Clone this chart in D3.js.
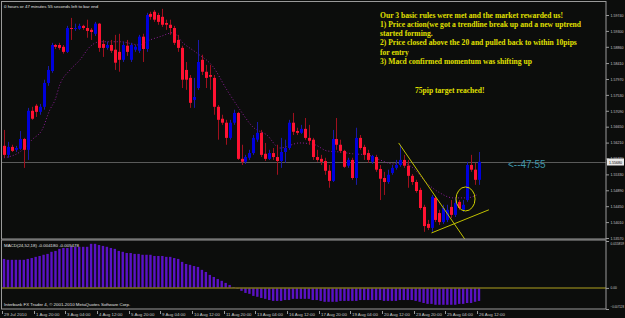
<!DOCTYPE html>
<html>
<head>
<meta charset="utf-8">
<title>GBPUSD H4 with MACD</title>
<script src="https://d3js.org/d3.v7.min.js"></script>
<style>
    body {
        margin: 0;
        padding: 0;
        background: #0c0d0c;
    }
    svg { display: block; }
    .small {
        font-family: "Liberation Sans", Arial, sans-serif;
        font-size: 4.4px;
        fill: #c8c8c8;
    }
    .axis text {
        font-size: 4px;
    }
    .macdaxis text {
        font-size: 3.3px;
    }
    .note {
        font-family: "Liberation Serif", "Times New Roman", serif;
        font-size: 7.6px;
        font-weight: bold;
        fill: #e0e000;
    }
</style>
</head>
<body>
<script>
var w = 625, h = 318;

// time labels, one every 8 bars (4 hour bars)
var timeLabels = ["29 Jul 2010", "1 Aug 20:00", "3 Aug 04:00", "4 Aug 12:00", "5 Aug 20:00",
    "9 Aug 04:00", "10 Aug 12:00", "11 Aug 20:00", "13 Aug 04:00", "16 Aug 12:00",
    "17 Aug 20:00", "19 Aug 04:00", "20 Aug 12:00", "23 Aug 20:00", "25 Aug 04:00", "26 Aug 12:00"];

var priceTicks = [1.59740, 1.59300, 1.58860, 1.58410, 1.57970, 1.57530, 1.57090, 1.56650,
    1.56210, 1.55770, 1.55330, 1.54890, 1.54450, 1.54010, 1.53570];

var macdTicks = [0.015859, 0, -0.007128];

// open, high, low, close
var candles = [
    [1.5612,1.5656,1.5579,1.5587],[1.5587,1.5623,1.5579,1.5609],[1.5609,1.5615,1.5595,1.5598],
    [1.5601,1.5612,1.5595,1.5606],[1.5604,1.5653,1.5601,1.5631],[1.5631,1.5634,1.5551,1.5601],
    [1.5601,1.5717,1.5573,1.5709],[1.5709,1.5720,1.5684,1.5687],[1.5723,1.5728,1.5692,1.5706],
    [1.5706,1.5728,1.5698,1.5720],[1.5720,1.5795,1.5712,1.5786],[1.5786,1.5833,1.5778,1.5822],
    [1.5819,1.5897,1.5814,1.5891],[1.5891,1.5894,1.5880,1.5886],[1.5891,1.5897,1.5878,1.5883],
    [1.5886,1.5891,1.5867,1.5872],[1.5872,1.5944,1.5869,1.5938],[1.5938,1.5966,1.5905,1.5936],
    [1.5936,1.5950,1.5930,1.5938],[1.5936,1.5950,1.5933,1.5944],[1.5944,1.5947,1.5933,1.5938],
    [1.5938,1.5961,1.5911,1.5930],[1.5933,1.5938,1.5905,1.5927],[1.5922,1.5955,1.5916,1.5950],
    [1.5950,1.5952,1.5872,1.5883],[1.5894,1.5905,1.5858,1.5883],[1.5883,1.5900,1.5878,1.5891],
    [1.5891,1.5905,1.5869,1.5875],[1.5878,1.5919,1.5822,1.5842],[1.5872,1.5922,1.5817,1.5850],
    [1.5850,1.5900,1.5844,1.5891],[1.5889,1.5905,1.5861,1.5872],[1.5850,1.5897,1.5844,1.5891],
    [1.5878,1.5891,1.5872,1.5886],[1.5875,1.5919,1.5869,1.5914],[1.5914,1.5922,1.5844,1.5880],
    [1.5880,1.5980,1.5872,1.5974],[1.5977,1.5983,1.5961,1.5969],[1.5983,1.5988,1.5955,1.5961],
    [1.5974,1.5980,1.5947,1.5955],[1.5969,1.5991,1.5941,1.5947],[1.5952,1.5961,1.5933,1.5947],
    [1.5947,1.5961,1.5919,1.5938],[1.5938,1.5944,1.5891,1.5897],[1.5905,1.5919,1.5872,1.5883],
    [1.5883,1.5889,1.5772,1.5795],[1.5822,1.5844,1.5767,1.5795],[1.5800,1.5808,1.5717,1.5731],
    [1.5739,1.5800,1.5717,1.5747],[1.5772,1.5905,1.5767,1.5844],[1.5850,1.5864,1.5808,1.5817],
    [1.5817,1.5836,1.5772,1.5800],[1.5808,1.5836,1.5767,1.5803],[1.5800,1.5808,1.5698,1.5720],
    [1.5720,1.5725,1.5629,1.5684],[1.5687,1.5698,1.5670,1.5676],[1.5676,1.5684,1.5615,1.5634],
    [1.5634,1.5684,1.5629,1.5676],[1.5676,1.5712,1.5670,1.5703],[1.5703,1.5706,1.5573,1.5576],
    [1.5576,1.5615,1.5559,1.5568],[1.5568,1.5587,1.5562,1.5581],[1.5579,1.5601,1.5573,1.5592],
    [1.5592,1.5642,1.5587,1.5634],[1.5629,1.5678,1.5623,1.5648],[1.5648,1.5656,1.5581,1.5587],
    [1.5590,1.5620,1.5570,1.5576],[1.5576,1.5601,1.5573,1.5592],[1.5592,1.5606,1.5573,1.5581],
    [1.5581,1.5615,1.5532,1.5570],[1.5570,1.5634,1.5551,1.5595],[1.5595,1.5629,1.5565,1.5606],
    [1.5606,1.5684,1.5601,1.5676],[1.5676,1.5703,1.5642,1.5651],[1.5653,1.5662,1.5642,1.5648],
    [1.5648,1.5670,1.5645,1.5659],[1.5659,1.5689,1.5629,1.5634],[1.5634,1.5670,1.5615,1.5626],
    [1.5629,1.5634,1.5573,1.5581],[1.5581,1.5601,1.5568,1.5573],[1.5576,1.5587,1.5559,1.5568],
    [1.5570,1.5579,1.5532,1.5543],[1.5543,1.5559,1.5496,1.5515],[1.5515,1.5656,1.5512,1.5631],
    [1.5631,1.5689,1.5601,1.5615],[1.5615,1.5629,1.5592,1.5598],[1.5598,1.5601,1.5551,1.5554],
    [1.5557,1.5579,1.5551,1.5573],[1.5573,1.5579,1.5518,1.5523],[1.5523,1.5662,1.5504,1.5634],
    [1.5634,1.5642,1.5601,1.5606],[1.5609,1.5615,1.5573,1.5587],[1.5592,1.5601,1.5565,1.5573],
    [1.5568,1.5587,1.5562,1.5584],[1.5581,1.5587,1.5540,1.5546],[1.5548,1.5559,1.5462,1.5521],
    [1.5523,1.5540,1.5476,1.5512],[1.5512,1.5546,1.5507,1.5532],[1.5537,1.5559,1.5532,1.5551],
    [1.5551,1.5573,1.5546,1.5559],[1.5559,1.5615,1.5554,1.5573],[1.5573,1.5587,1.5551,1.5557],
    [1.5557,1.5573,1.5496,1.5529],[1.5529,1.5534,1.5504,1.5512],[1.5512,1.5518,1.5482,1.5487],
    [1.5490,1.5496,1.5435,1.5440],[1.5443,1.5449,1.5374,1.5390],[1.5396,1.5407,1.5379,1.5385],
    [1.5385,1.5476,1.5374,1.5471],[1.5468,1.5473,1.5401,1.5407],[1.5426,1.5435,1.5393,1.5401],
    [1.5401,1.5449,1.5396,1.5440],[1.5407,1.5449,1.5401,1.5435],[1.5443,1.5462,1.5412,1.5421],
    [1.5421,1.5468,1.5415,1.5454],[1.5457,1.5462,1.5435,1.5440],[1.5435,1.5462,1.5429,1.5449],
    [1.5462,1.5568,1.5457,1.5559],[1.5559,1.5587,1.5540,1.5546],[1.5546,1.5565,1.5504,1.5518],
    [1.5518,1.5595,1.5504,1.5568]
];

// 20 period moving average: [bar, price]
var ma20 = [[0,1.5579],[4,1.5595],[7.3,1.5631],[9.6,1.5656],[11.6,1.5712],[12.9,1.5739],
    [14.1,1.5781],[16.7,1.5822],[19.2,1.5850],[21.7,1.5886],[24.2,1.5900],[29.3,1.5900],
    [34.3,1.5891],[36.9,1.5905],[39.4,1.5914],[42.7,1.5925],[45.2,1.5897],[48.7,1.5869],
    [52.8,1.5831],[56.3,1.5767],[59.6,1.5712],[62.9,1.5664],[66.4,1.5642],[69.7,1.5606],
    [74.7,1.5620],[78.5,1.5615],[81.6,1.5598],[84.8,1.5595],[88.1,1.5590],[91.7,1.5587],
    [95,1.5573],[98.2,1.5562],[100.8,1.5565],[103.3,1.5551],[106.8,1.5509],[110.1,1.5482],
    [113.4,1.5468],[116.9,1.5468],[119.4,1.5476]];

// MACD(24,52,18) main histogram
var macd = [
    0.0098,0.0095,0.0095,0.0095,0.0095, 0.0095,0.0098,0.0101,0.0105,0.0108,
    0.0112,0.0115,0.0122,0.0125,0.0132, 0.0135,0.0135,0.0139,0.0139,0.0139,
    0.0139,0.0139,0.0149,0.0149,0.0145, 0.0142,0.0139,0.0135,0.0132,0.0125,
    0.0122,0.0118,0.0118,0.0115,0.0115, 0.0112,0.0112,0.0112,0.0108,0.0108,
    0.0108,0.0105,0.0105,0.0101,0.0098, 0.0088,0.0081,0.0078,0.0074,0.0071,
    0.0061,0.0054,0.0044,0.0037,0.0030, 0.0024,0.0017,0.0010,0.0003,-0.0003,
    -0.0010,-0.0017,-0.0020,-0.0027,-0.0030, -0.0034,-0.0037,-0.0041,-0.0044,-0.0044,
    -0.0044,-0.0041,-0.0041,-0.0037,-0.0037, -0.0037,-0.0037,-0.0037,-0.0041,-0.0041,
    -0.0044,-0.0047,-0.0047,-0.0047,-0.0047, -0.0044,-0.0044,-0.0044,-0.0044,-0.0044,
    -0.0041,-0.0041,-0.0041,-0.0041,-0.0041, -0.0041,-0.0044,-0.0044,-0.0044,-0.0044,
    -0.0041,-0.0041,-0.0041,-0.0041,-0.0044, -0.0047,-0.0051,-0.0054,-0.0054,-0.0057,
    -0.0057,-0.0057,-0.0057,-0.0057,-0.0057, -0.0054,-0.0054,-0.0051,-0.0051,-0.0047,
    -0.0044
];

var lastPrice = 1.55680;

// hand drawn objects: [bar, price]
var trendDown = [[99.7, 1.5620], [116.4, 1.5354]];
var trendUp = [[108, 1.5371], [122.5, 1.5435]];
var circleAt = [116.6, 1.5465];

var notes = ["Our 3 basic rules were met and the market rewarded us!",
    "1) Price action(we got a trendline break up and a new uptrend",
    "started forming.",
    "2) Price closed above the 20 and pulled back to within 10pips",
    "for entry",
    "3) Macd confirmed momentum was shifting up"];
var target = "75pip target reached!";

// layout
var left = 2, right = 606, mainTop = 2, mainBottom = 239, macdTop = 240, macdBottom = 309;

var x = d3.scaleLinear().domain([0, 120]).range([4, 479]);
var y = d3.scaleLinear().domain([1.53570, 1.59740]).range([238, 15]);
var ym = d3.scaleLinear().domain([-0.007128, 0.015859]).range([309, 241]);

var svg = d3.select("body").append("svg")
    .attr("width", w)
    .attr("height", h);

svg.append("rect").attr("width", w).attr("height", h).attr("fill", "#0c0d0c");

var defs = svg.append("defs");
defs.append("clipPath").attr("id", "clipMain")
    .append("rect").attr("x", left).attr("y", mainTop).attr("width", right - left).attr("height", mainBottom - mainTop);
defs.append("clipPath").attr("id", "clipMacd")
    .append("rect").attr("x", left).attr("y", macdTop).attr("width", right - left).attr("height", macdBottom - macdTop);

var main = svg.append("g").attr("clip-path", "url(#clipMain)");
var lower = svg.append("g").attr("clip-path", "url(#clipMacd)");

// bid line
main.append("line")
    .attr("x1", left).attr("x2", right)
    .attr("y1", Math.round(y(lastPrice)) + 0.5).attr("y2", Math.round(y(lastPrice)) + 0.5)
    .attr("stroke", "#5a5a5a");

// moving average, dotted
main.append("path")
    .datum(ma20)
    .attr("d", d3.line().x(function(d) { return x(d[0]); }).y(function(d) { return y(d[1]); }).curve(d3.curveMonotoneX))
    .attr("fill", "none")
    .attr("stroke", "#8c1c98")
    .attr("stroke-width", 1)
    .attr("stroke-dasharray", "1 2");

// candles
var bar = main.selectAll(".candle")
    .data(candles)
    .enter().append("g")
    .attr("class", "candle");

bar.append("line")
    .attr("x1", function(d, i) { return Math.round(x(i)) + 0.5; })
    .attr("x2", function(d, i) { return Math.round(x(i)) + 0.5; })
    .attr("y1", function(d) { return y(d[1]); })
    .attr("y2", function(d) { return y(d[2]); })
    .attr("stroke", function(d) { return d[3] >= d[0] ? "#1a1aa8" : "#a0101e"; });

bar.append("rect")
    .attr("x", function(d, i) { return Math.round(x(i)) - 1; })
    .attr("width", 3)
    .attr("y", function(d) { return y(Math.max(d[0], d[3])); })
    .attr("height", function(d) { return Math.max(1, Math.abs(y(d[0]) - y(d[3]))); })
    .attr("fill", function(d) { return d[3] >= d[0] ? "#0000dc" : "#ff1232"; });

// trendlines and circle
[trendDown, trendUp].forEach(function(t) {
    main.append("line")
        .attr("x1", x(t[0][0])).attr("y1", y(t[0][1]))
        .attr("x2", x(t[1][0])).attr("y2", y(t[1][1]))
        .attr("stroke", "#c0c000")
        .attr("stroke-width", 1);
});
main.append("ellipse")
    .attr("cx", x(circleAt[0])).attr("cy", y(circleAt[1]))
    .attr("rx", 9.5).attr("ry", 12)
    .attr("fill", "none")
    .attr("stroke", "#d0d000")
    .attr("stroke-width", 1);

// MACD histogram
lower.selectAll(".hist")
    .data(macd)
    .enter().append("rect")
    .attr("class", "hist")
    .attr("x", function(d, i) { return x(i) - 1.2; })
    .attr("width", 2.4)
    .attr("y", function(d) { return ym(Math.max(0, d)); })
    .attr("height", function(d) { return Math.abs(ym(d) - ym(0)); })
    .attr("fill", "#5a12c4");

lower.append("line")
    .attr("x1", left).attr("x2", right)
    .attr("y1", ym(0)).attr("y2", ym(0))
    .attr("stroke", "#7a7018")
    .attr("stroke-width", 1.5);

// frames
svg.append("rect")
    .attr("x", left - 0.5).attr("y", mainTop - 0.5)
    .attr("width", right - left + 0.5).attr("height", mainBottom - mainTop + 0.5)
    .attr("fill", "none").attr("stroke", "#9a9a9a");
svg.append("rect")
    .attr("x", left - 0.5).attr("y", macdTop)
    .attr("width", right - left + 0.5).attr("height", macdBottom - macdTop)
    .attr("fill", "none").attr("stroke", "#9a9a9a");

// squeeze the tiny axis numbers so they fit in the narrow margin
function fit(sel, width) {
    sel.attr("textLength", width).attr("lengthAdjust", "spacingAndGlyphs");
}

// price axis
var yAxis = d3.axisRight(y)
    .tickValues(priceTicks)
    .tickSize(3)
    .tickPadding(1.5)
    .tickFormat(d3.format(".5f"));
var ga = svg.append("g")
    .attr("class", "axis")
    .attr("transform", "translate(" + right + ",0)")
    .call(yAxis);
ga.select(".domain").remove();
ga.selectAll("line").attr("stroke", "#9a9a9a");
ga.selectAll("text").attr("class", "small").attr("font-size", null).attr("font-family", null).attr("fill", null)
    .call(fit, 13);

// current price marker
var lp = Math.round(y(lastPrice));
svg.append("rect")
    .attr("x", right + 1).attr("y", lp - 3.5)
    .attr("width", 17).attr("height", 7)
    .attr("fill", "#e8e8e8");
svg.append("g").attr("class", "axis").append("text")
    .attr("class", "small")
    .attr("x", right + 3).attr("y", lp + 1.6)
    .style("fill", "#000")
    .text(d3.format(".5f")(lastPrice))
    .call(fit, 13);

// macd axis
var mAxis = d3.axisRight(ym)
    .tickValues(macdTicks)
    .tickSize(3)
    .tickPadding(1.5)
    .tickFormat(function(d) { return d === 0 ? "0.00" : d3.format(".6f")(d); });
var gm = svg.append("g")
    .attr("class", "macdaxis")
    .attr("transform", "translate(" + right + ",0)")
    .call(mAxis);
gm.select(".domain").remove();
gm.selectAll("line").attr("stroke", "#9a9a9a");
gm.selectAll("text").attr("class", "small").attr("font-size", null).attr("font-family", null).attr("fill", null)
    .attr("dy", function(d) { return d > 0 ? "1em" : (d < 0 ? "-0.6em" : "0.32em"); })
    .each(function(d) {
        if (d !== 0) d3.select(this).call(fit, 13.5);
    });

// time axis
var tg = svg.append("g");
timeLabels.forEach(function(t, k) {
    var tx = Math.round(x(k * 8)) - 2;
    tg.append("line")
        .attr("x1", tx + 0.5).attr("x2", tx + 0.5)
        .attr("y1", macdBottom + 2).attr("y2", macdBottom + 5)
        .attr("stroke", "#9a9a9a");
    tg.append("text")
        .attr("class", "small")
        .attr("x", tx + 2).attr("y", 316)
        .text(t);
});

// labels inside the panels
svg.append("text").attr("class", "small").attr("x", 4).attr("y", 7.5)
    .style("fill", "#e0e0e0")
    .text("0 hours or 47 minutes 55 seconds left to bar end");
svg.append("text").attr("class", "small").attr("x", 4).attr("y", 247)
    .style("fill", "#e0e0e0")
    .text("MACD(24,52,18) -0.004180 -0.005478");
svg.append("text").attr("class", "small").attr("x", 4).attr("y", 306)
    .style("fill", "#e0e0e0")
    .text("Interbank FX Trader 4, \u00a9 2001-2010 MetaQuotes Software Corp.");

// timer next to the last bar
svg.append("text")
    .attr("x", 508).attr("y", 168)
    .attr("font-family", "Liberation Sans, Arial, sans-serif")
    .attr("font-size", 10)
    .attr("fill", "#3f96aa")
    .text("<--47:55");

// comment text
svg.selectAll(".note")
    .data(notes)
    .enter().append("text")
    .attr("class", "note")
    .attr("x", 380)
    .attr("y", function(d, i) { return 17.5 + i * 9.3; })
    .text(function(d) { return d; });
svg.append("text").attr("class", "note")
    .attr("x", 415).attr("y", 93)
    .text(target);
</script>
</body>
</html>
